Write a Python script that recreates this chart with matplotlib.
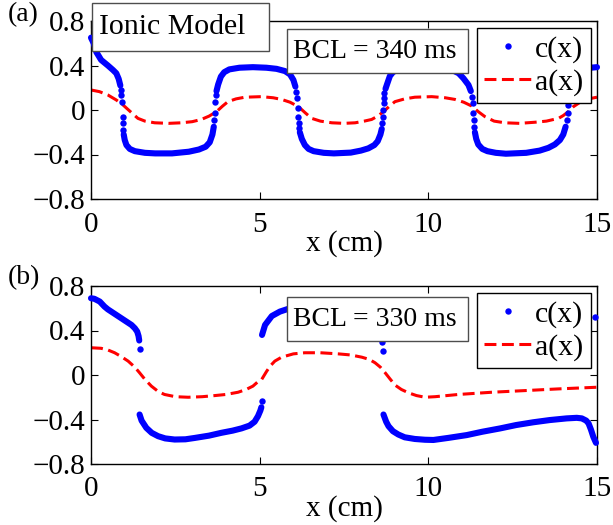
import matplotlib
matplotlib.use("Agg")
import matplotlib.pyplot as plt
from matplotlib.patches import Rectangle

plt.rcParams["font.family"] = ["Liberation Serif", "DejaVu Serif"]

# ---- panel (a): BCL = 340 ms ----
# smooth branches of c(x), one list per branch
top_c_branch_x = [
    [0.0, 0.08, 0.16, 0.3, 0.5, 0.65, 0.75, 0.82, 0.87],
    [0.97, 1.0, 1.05, 1.15, 1.3, 1.6, 1.9, 2.4, 2.9, 3.2, 3.4, 3.52, 3.6, 3.64],
    [3.72, 3.77, 3.85, 3.95, 4.1, 4.4, 4.8, 5.2, 5.5, 5.75, 5.9, 6.0, 6.06],
    [6.19, 6.25, 6.34, 6.45, 6.6, 6.9, 7.2, 7.7, 8.0, 8.22, 8.4, 8.5, 8.58, 8.62],
    [8.73, 8.78, 8.86, 8.95, 9.1, 9.4, 9.9, 10.4, 10.7, 10.9, 11.04, 11.19, 11.26],
    [11.38, 11.42, 11.48, 11.6, 11.75, 12.0, 12.3, 12.9, 13.3, 13.56, 13.75, 13.9, 14.0, 14.07],
    [14.2, 14.3, 14.45, 14.6, 14.8, 15.0],
]
top_c_branch_y = [
    [0.65, 0.6, 0.52, 0.45, 0.40, 0.36, 0.33, 0.28, 0.22],
    [-0.22, -0.27, -0.315, -0.35, -0.37, -0.385, -0.39, -0.39, -0.375, -0.355, -0.33, -0.29, -0.22, -0.15],
    [0.17, 0.23, 0.3, 0.34, 0.365, 0.38, 0.385, 0.38, 0.37, 0.35, 0.32, 0.27, 0.21],
    [-0.2, -0.26, -0.315, -0.35, -0.37, -0.385, -0.39, -0.383, -0.365, -0.345, -0.315, -0.28, -0.22, -0.17],
    [0.19, 0.235, 0.305, 0.34, 0.365, 0.38, 0.385, 0.38, 0.36, 0.33, 0.285, 0.225, 0.17],
    [-0.2, -0.26, -0.31, -0.35, -0.37, -0.385, -0.393, -0.385, -0.365, -0.34, -0.31, -0.27, -0.22, -0.15],
    [0.16, 0.27, 0.33, 0.36, 0.38, 0.385],
]
# separated dots across the fronts
top_c_dot_x = [0.89, 0.9, 0.92, 0.94, 0.95, 0.96,
               3.66, 3.68, 3.69, 3.7,
               6.09, 6.11, 6.13, 6.15, 6.16, 6.17,
               8.64, 8.66, 8.67, 8.68, 8.69, 8.7,
               11.29, 11.31, 11.33, 11.35, 11.36,
               14.11, 14.13, 14.15, 14.17]
top_c_dot_y = [0.18, 0.135, 0.075, -0.06, -0.12, -0.18,
               -0.09, -0.03, 0.075, 0.135,
               0.165, 0.105, 0.015, -0.06, -0.12, -0.165,
               -0.12, -0.06, 0.0, 0.06, 0.105, 0.15,
               0.12, 0.06, -0.03, -0.09, -0.15,
               -0.09, -0.03, 0.045, 0.1]
top_a_x = [0, 0.25, 0.5, 0.75, 0.95, 1.15, 1.39, 1.6, 1.89, 2.3, 2.68, 3.0, 3.27, 3.5,
           3.72, 3.9, 4.06, 4.3, 4.56, 5.05, 5.4, 5.65, 5.9, 6.15, 6.35, 6.54, 6.8, 7.14,
           7.5, 7.83, 8.1, 8.32, 8.5, 8.67, 8.85, 9.01, 9.3, 9.6, 10.1, 10.5, 10.79, 11.05,
           11.29, 11.48, 11.68, 11.95, 12.27, 12.7, 13.16, 13.5, 13.86, 14.0, 14.15, 14.3,
           14.5, 14.75, 15.0]
top_a_y = [0.18, 0.165, 0.135, 0.09, 0.045, -0.01, -0.075, -0.1, -0.115, -0.12, -0.115,
           -0.105, -0.085, -0.055, -0.015, 0.035, 0.075, 0.1, 0.115, 0.12, 0.11, 0.095,
           0.07, 0.03, -0.025, -0.075, -0.1, -0.115, -0.12, -0.115, -0.1, -0.085, -0.055,
           -0.015, 0.035, 0.075, 0.1, 0.115, 0.12, 0.11, 0.095, 0.07, 0.035, -0.015, -0.06,
           -0.1, -0.115, -0.12, -0.11, -0.1, -0.075, -0.05, -0.015, 0.03, 0.07, 0.1, 0.115]

# ---- panel (b): BCL = 330 ms ----
bot_c_branch_x = [
    [0.0, 0.1, 0.26, 0.4, 0.5, 0.7, 0.9, 1.05, 1.2, 1.3, 1.37, 1.41, 1.43],
    [1.44, 1.5, 1.64, 1.8, 1.99, 2.2, 2.48, 2.8, 3.07, 3.5, 3.86, 4.2, 4.46, 4.7, 4.85,
     4.95, 5.02, 5.05],
    [5.07, 5.16, 5.36, 5.6, 5.9, 6.3, 6.8, 7.3, 7.8, 8.2, 8.45, 8.58, 8.62],
    [8.67, 8.75, 8.82, 8.95, 9.11, 9.3, 9.6, 9.9, 10.15, 10.6, 11.14, 11.6, 12.13, 12.6,
     13.11, 13.6, 14.1, 14.4, 14.55, 14.68, 14.75, 14.82, 14.89, 14.97],
]
bot_c_branch_y = [
    [0.69, 0.685, 0.66, 0.615, 0.59, 0.55, 0.51, 0.48, 0.45, 0.42, 0.39, 0.35, 0.31],
    [-0.355, -0.41, -0.475, -0.52, -0.55, -0.57, -0.58, -0.578, -0.566, -0.545, -0.52,
     -0.5, -0.48, -0.455, -0.42, -0.37, -0.32, -0.29],
    [0.36, 0.45, 0.53, 0.57, 0.6, 0.62, 0.62, 0.6, 0.55, 0.48, 0.4, 0.35, 0.33],
    [-0.355, -0.42, -0.46, -0.505, -0.535, -0.56, -0.575, -0.582, -0.584, -0.565, -0.54,
     -0.51, -0.48, -0.45, -0.425, -0.405, -0.39, -0.385, -0.39, -0.41, -0.435, -0.49,
     -0.555, -0.61],
]
bot_c_dot_x = [1.44, 5.06, 8.64, 8.65, 14.95]
bot_c_dot_y = [0.235, -0.23, 0.295, 0.22, 0.525]
bot_a_x = [0, 0.3, 0.5, 0.7, 0.9, 1.1, 1.3, 1.44, 1.6, 1.79, 2.0, 2.18, 2.5, 2.88, 3.3,
           3.67, 4.0, 4.36, 4.6, 4.8, 4.95, 5.06, 5.2, 5.31, 5.45, 5.65, 6.0, 6.34, 6.8,
           7.33, 7.7, 8.03, 8.25, 8.42, 8.58, 8.72, 8.85, 9.01, 9.2, 9.41, 9.65, 9.9,
           10.2, 10.89, 11.88, 12.87, 13.85, 15.0]
bot_a_y = [0.245, 0.24, 0.225, 0.2, 0.165, 0.125, 0.07, 0.02, -0.04, -0.1, -0.15, -0.175,
           -0.195, -0.2, -0.195, -0.185, -0.175, -0.155, -0.13, -0.1, -0.06, -0.04, 0.03,
           0.08, 0.125, 0.16, 0.19, 0.2, 0.2, 0.19, 0.18, 0.16, 0.14, 0.11, 0.07, 0.02,
           -0.03, -0.09, -0.13, -0.16, -0.185, -0.2, -0.195, -0.175, -0.155, -0.14,
           -0.125, -0.11]

y_ticks = [-0.8, -0.4, 0, 0.4, 0.8]
y_tick_labels = ["\u22120.8", "\u22120.4", "0", "0.4", "0.8"]
x_ticks = [0, 5, 10, 15]

W, H = 613, 525


def fx(px):
    return px / W


def fy(py):
    return 1 - py / H


def draw_panel(ax, bx, by, dx, dy, ax_, ay_):
    ax.plot(dx, dy, "o", color="b", ms=4.6, mew=0, label="c(x)", clip_on=False, zorder=3)
    for xs, ys in zip(bx, by):
        ax.plot(xs, ys, "-", color="b", lw=4.4, solid_capstyle="round", clip_on=False, zorder=3)
    ax.plot(ax_, ay_, color="r", lw=2.2, ls=(0, (3.9, 1.8)), label="a(x)", zorder=2)
    ax.set_xlim(0, 15)
    ax.set_ylim(-0.8, 0.8)
    ax.set_xticks(x_ticks)
    ax.set_yticks(y_ticks)
    ax.set_yticklabels(y_tick_labels)
    ax.tick_params(direction="in", length=5, width=0.8, top=True, right=True,
                   labelsize=21, pad=4)
    ax.tick_params(axis="x", pad=9)
    for s in ax.spines.values():
        s.set_linewidth(1.0)
    ax.set_xlabel("x (cm)", fontsize=21, labelpad=-5)


def text_box(x0, y0, x1, y1, label, size, tx):
    fig.add_artist(Rectangle((fx(x0), fy(y1)), (x1 - x0) / W, (y1 - y0) / H,
                             transform=fig.transFigure, facecolor="white",
                             edgecolor="0.3", lw=1.0, zorder=4))
    fig.text(fx(tx), fy((y0 + y1) / 2), label, fontsize=size, ha="left", va="center",
             zorder=5)


fig = plt.figure(figsize=(W / 100, H / 100), dpi=100)
ax_top = fig.add_axes([fx(91), fy(199), (597 - 91) / W, (199 - 21) / H])
ax_bot = fig.add_axes([fx(91), fy(464), (597 - 91) / W, (464 - 286) / H])

draw_panel(ax_top, top_c_branch_x, top_c_branch_y, top_c_dot_x, top_c_dot_y, top_a_x, top_a_y)
draw_panel(ax_bot, bot_c_branch_x, bot_c_branch_y, bot_c_dot_x, bot_c_dot_y, bot_a_x, bot_a_y)

for ax, ytop in [(ax_top, 28), (ax_bot, 293)]:
    leg = ax.legend(loc="upper left", bbox_to_anchor=(fx(477), fy(ytop)),
                    bbox_transform=fig.transFigure, fancybox=False, edgecolor="k",
                    framealpha=1, borderaxespad=0, borderpad=0.25, labelspacing=0.2,
                    handlelength=1.55, handletextpad=0.15, numpoints=1, fontsize=21.5)
    leg.get_frame().set_linewidth(1.0)

text_box(92, 3, 269, 51, "Ionic Model", 21.5, 99)
text_box(287, 29, 468, 73, "BCL = 340 ms", 20, 293)
text_box(287, 297, 468, 341, "BCL = 330 ms", 20, 293)

fig.text(fx(23), fy(15), "(a)", fontsize=20, ha="center", va="center")
fig.text(fx(24), fy(278), "(b)", fontsize=20, ha="center", va="center")

fig.savefig("out.png", dpi=100)
